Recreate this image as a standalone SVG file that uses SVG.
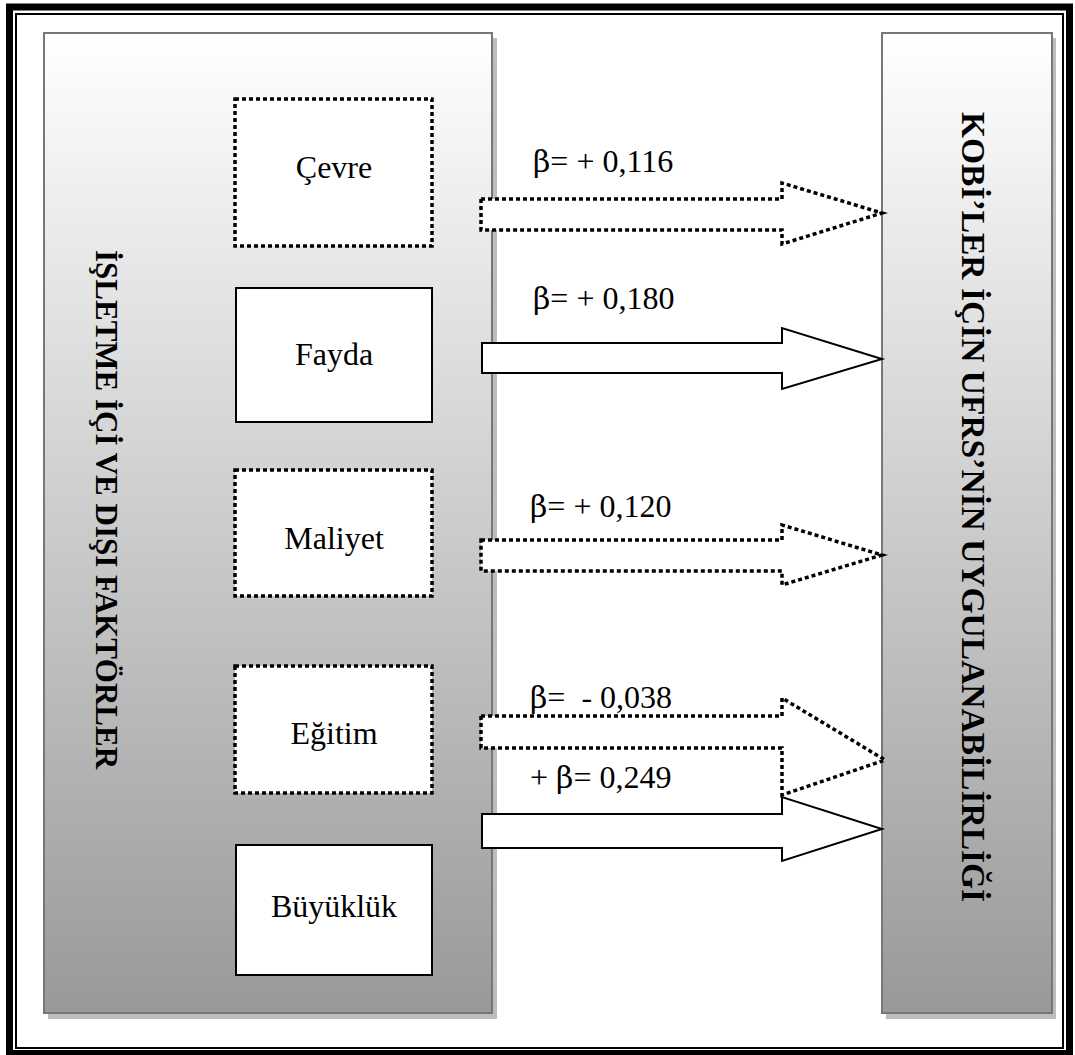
<svg xmlns="http://www.w3.org/2000/svg" width="1075" height="1055" viewBox="0 0 1075 1055">
<defs>
<linearGradient id="pg" x1="0" y1="0" x2="0" y2="1">
<stop offset="0" stop-color="#ffffff"/>
<stop offset="1" stop-color="#999999"/>
</linearGradient>
<style>
.panel{fill:url(#pg);stroke:#777;stroke-width:2}
.shadow{fill:#bdbdbd}
.solid{fill:#fff;stroke:#000;stroke-width:2}
.dot{fill:#fff;stroke:#000;stroke-width:3.5;stroke-dasharray:4 3}
.lbl{font-family:"Liberation Serif","Times New Roman",serif;font-size:32px;fill:#000}
.beta{font-family:"DejaVu Serif","Liberation Serif",serif;font-size:30px}
.vt{font-family:"Liberation Serif","Times New Roman",serif;font-weight:bold;fill:#000}
</style>
</defs>
<rect x="0" y="0" width="1075" height="1055" fill="#fff"/>
<rect x="9.5" y="7" width="1060" height="1046.5" fill="none" stroke="#000" stroke-width="7"/>
<rect x="16" y="14" width="1047" height="1034" fill="none" stroke="#000" stroke-width="2"/>

<g id="panel-left">
<rect class="shadow" x="48" y="38" width="449" height="981"/>
<rect class="panel" x="44" y="33" width="448" height="980"/>
<text class="vt" font-size="31" transform="translate(96,250) rotate(90)">İŞLETME İÇİ VE DIŞI FAKTÖRLER</text>
</g>
<g id="panel-right">
<rect class="shadow" x="886" y="38" width="170" height="981"/>
<rect class="panel" x="882" y="33" width="170" height="980"/>
<text class="vt" font-size="33.5" transform="translate(962,112) rotate(90)">KOBİ’LER İÇİN UFRS’NİN UYGULANABİLİRLİĞİ</text>
</g>

<g id="node-cevre">
<rect class="dot" x="235" y="99" width="197" height="147"/>
<text class="lbl" x="334" y="178" text-anchor="middle">Çevre</text>
</g>
<g id="node-fayda">
<rect class="solid" x="236" y="288" width="196" height="134"/>
<text class="lbl" x="334" y="365" text-anchor="middle">Fayda</text>
</g>
<g id="node-maliyet">
<rect class="dot" x="235" y="470" width="197" height="126"/>
<text class="lbl" x="334" y="549" text-anchor="middle">Maliyet</text>
</g>
<g id="node-egitim">
<rect class="dot" x="235" y="666" width="197" height="127"/>
<text class="lbl" x="334" y="744" text-anchor="middle">Eğitim</text>
</g>
<g id="node-buyukluk">
<rect class="solid" x="236" y="845" width="196" height="130"/>
<text class="lbl" x="334" y="917" text-anchor="middle">Büyüklük</text>
</g>

<g id="connectors">
<path class="dot" d="M481,199 H782 V183 L882,213 L782,244 V230 H481 Z"/>
<path class="solid" d="M482,343 H782 V328 L882,359 L782,389 V373 H482 Z"/>
<path class="dot" d="M481,540 H782 V525 L882,555 L782,585 V571 H481 Z"/>
<path class="dot" d="M481,716 H782 V698 L885,760 L782,795 V748 H481 Z"/>
<path class="solid" d="M482,814 H782 V797 L882,829 L782,861 V848 H482 Z"/>
<text class="lbl" x="533" y="172"><tspan class="beta">β</tspan><tspan>= + 0,116</tspan></text>
<text class="lbl" x="533" y="309"><tspan class="beta">β</tspan><tspan>= + 0,180</tspan></text>
<text class="lbl" x="530" y="517"><tspan class="beta">β</tspan><tspan>= + 0,120</tspan></text>
<text class="lbl" x="530" y="708" xml:space="preserve"><tspan class="beta">β</tspan><tspan>=  - 0,038</tspan></text>
<text class="lbl" x="530" y="788" xml:space="preserve"><tspan>+ </tspan><tspan class="beta">β</tspan><tspan>= 0,249</tspan></text>
</g>
</svg>
